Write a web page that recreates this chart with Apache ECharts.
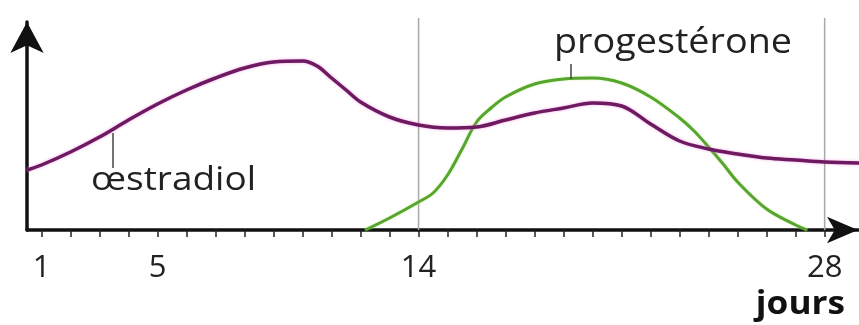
<!DOCTYPE html>
<html lang="fr">

<head>
  <meta charset="UTF-8">
  <title>Hormones ovariennes</title>
  <style>
    html,
    body {
      margin: 0;
      width: 100%;
      height: 100%;
      background: #fff;
    }

    .chart {
      width: 859px;
      height: 325px;
    }
  </style>
</head>

<body>
  <div id="chart" class="chart"></div>

  <script src="https://cdn.jsdelivr.net/npm/echarts@6/dist/echarts.min.js"></script>
  <script>
    // jours du cycle et taux (unités arbitraires)
    var oestroDays = [0.5, 1, 2, 3, 4, 5, 6, 7, 8, 9, 10, 10.5, 11, 11.5, 12, 13, 14, 15, 16, 17, 18, 19, 20, 21, 22, 23, 24, 25, 26, 27, 28, 29.2];
    var oestroValues = [60, 65, 78, 93, 110, 126, 140, 152, 162, 168, 169, 164, 152, 140, 128, 113, 105, 102, 103, 110, 117, 122, 127, 124, 106, 89, 81, 76, 72, 70, 68, 67];

    var progDays = [12.16, 13, 14, 14.5, 15, 15.5, 16, 16.5, 17, 18, 19, 20, 21, 22, 23, 23.5, 24, 24.5, 25, 26, 27, 27.4];
    var progValues = [0, 12, 28, 37, 55, 81, 108, 122, 133, 146, 151, 152, 147, 133, 112, 99, 83, 66, 48, 21, 5, 0];

    var tickDays = [1, 2, 3, 4, 5, 6, 7, 8, 9, 10, 11, 12, 13, 14, 15, 16, 17, 18, 19, 20, 21, 22, 23, 24, 25, 26, 27, 28];
    var tickLabels = [1, 5, 14, 28];
    var markerDays = [14, 28]; // traits verticaux gris
    var oestroPointer = [3.45, 97, 62]; // jour, haut, bas du trait vers le nom
    var progPointer = [19.24, 151, 166];

    var fontFamily = '"Open Sans", "DejaVu Sans", sans-serif';

    function pairs(xs, ys) {
      return xs.map(function (x, i) { return [x, ys[i]]; });
    }

    var myChart = echarts.init(document.getElementById('chart'));

    var series = [{
      name: 'œstradiol',
      type: 'line',
      data: pairs(oestroDays, oestroValues),
      smooth: 0.35,
      symbol: 'none',
      clip: false,
      z: 3,
      lineStyle: {
        color: '#6e1a60',
        width: 3.5,
        shadowColor: 'rgba(235,130,225,0.7)',
        shadowBlur: 3
      },
      markLine: {
        silent: true,
        symbol: ['none', 'none'],
        label: { show: false },
        lineStyle: { color: '#444', width: 1.5, type: 'solid' },
        data: [[{ coord: [oestroPointer[0], oestroPointer[1]] }, { coord: [oestroPointer[0], oestroPointer[2]] }]]
      }
    }, {
      name: 'progestérone',
      type: 'line',
      data: pairs(progDays, progValues),
      smooth: 0.35,
      symbol: 'none',
      clip: false,
      z: 2,
      lineStyle: {
        color: '#56a62e',
        width: 3,
        shadowColor: 'rgba(170,230,120,0.6)',
        shadowBlur: 2
      },
      markLine: {
        silent: true,
        symbol: ['none', 'none'],
        label: { show: false },
        lineStyle: { color: '#444', width: 1.5, type: 'solid' },
        data: [[{ coord: [progPointer[0], progPointer[1]] }, { coord: [progPointer[0], progPointer[2]] }]]
      }
    }];

    // traits verticaux aux jours 14 et 28
    markerDays.forEach(function (d) {
      series.push({
        type: 'line',
        data: [[d, 0], [d, 212]],
        symbol: 'none',
        clip: false,
        silent: true,
        z: 1,
        lineStyle: { color: '#a8a8a8', width: 1.5 }
      });
    });

    var option = {
      animation: false,
      grid: {
        left: 27,
        right: 1,
        top: 22,
        bottom: 95
      },
      xAxis: {
        type: 'value',
        min: 0.5,
        max: 29.15,
        splitLine: { show: false },
        axisLine: {
          lineStyle: { color: '#111', width: 3.5 },
          symbol: ['none', 'arrow'],
          symbolSize: [20, 31]
        },
        axisTick: {
          inside: false,
          length: 7,
          customValues: tickDays,
          lineStyle: { color: '#222', width: 1.5 }
        },
        axisLabel: {
          margin: 23,
          color: '#222',
          fontSize: 31,
          fontFamily: fontFamily,
          customValues: tickLabels
        }
      },
      yAxis: {
        type: 'value',
        min: 0,
        max: 208,
        splitLine: { show: false },
        axisTick: { show: false },
        axisLabel: { show: false },
        axisLine: {
          show: true,
          lineStyle: { color: '#111', width: 3.5 },
          symbol: ['none', 'arrow'],
          symbolSize: [25, 31]
        }
      },
      graphic: [{
        type: 'text',
        left: 91,
        top: 164,
        scaleX: 1.12,
        style: { text: 'œstradiol', font: '33px ' + fontFamily, fill: '#222' }
      }, {
        type: 'text',
        left: 554,
        top: 26,
        scaleX: 1.11,
        style: { text: 'progestérone', font: '34px ' + fontFamily, fill: '#222' }
      }, {
        type: 'text',
        right: 14,
        top: 289,
        scaleX: 1.1,
        style: { text: 'jours', font: 'bold 32px ' + fontFamily, fill: '#111' }
      }],
      series: series
    };

    myChart.setOption(option);
    window.addEventListener('resize', function () {
      myChart.resize();
    });
  </script>
</body>

</html>
